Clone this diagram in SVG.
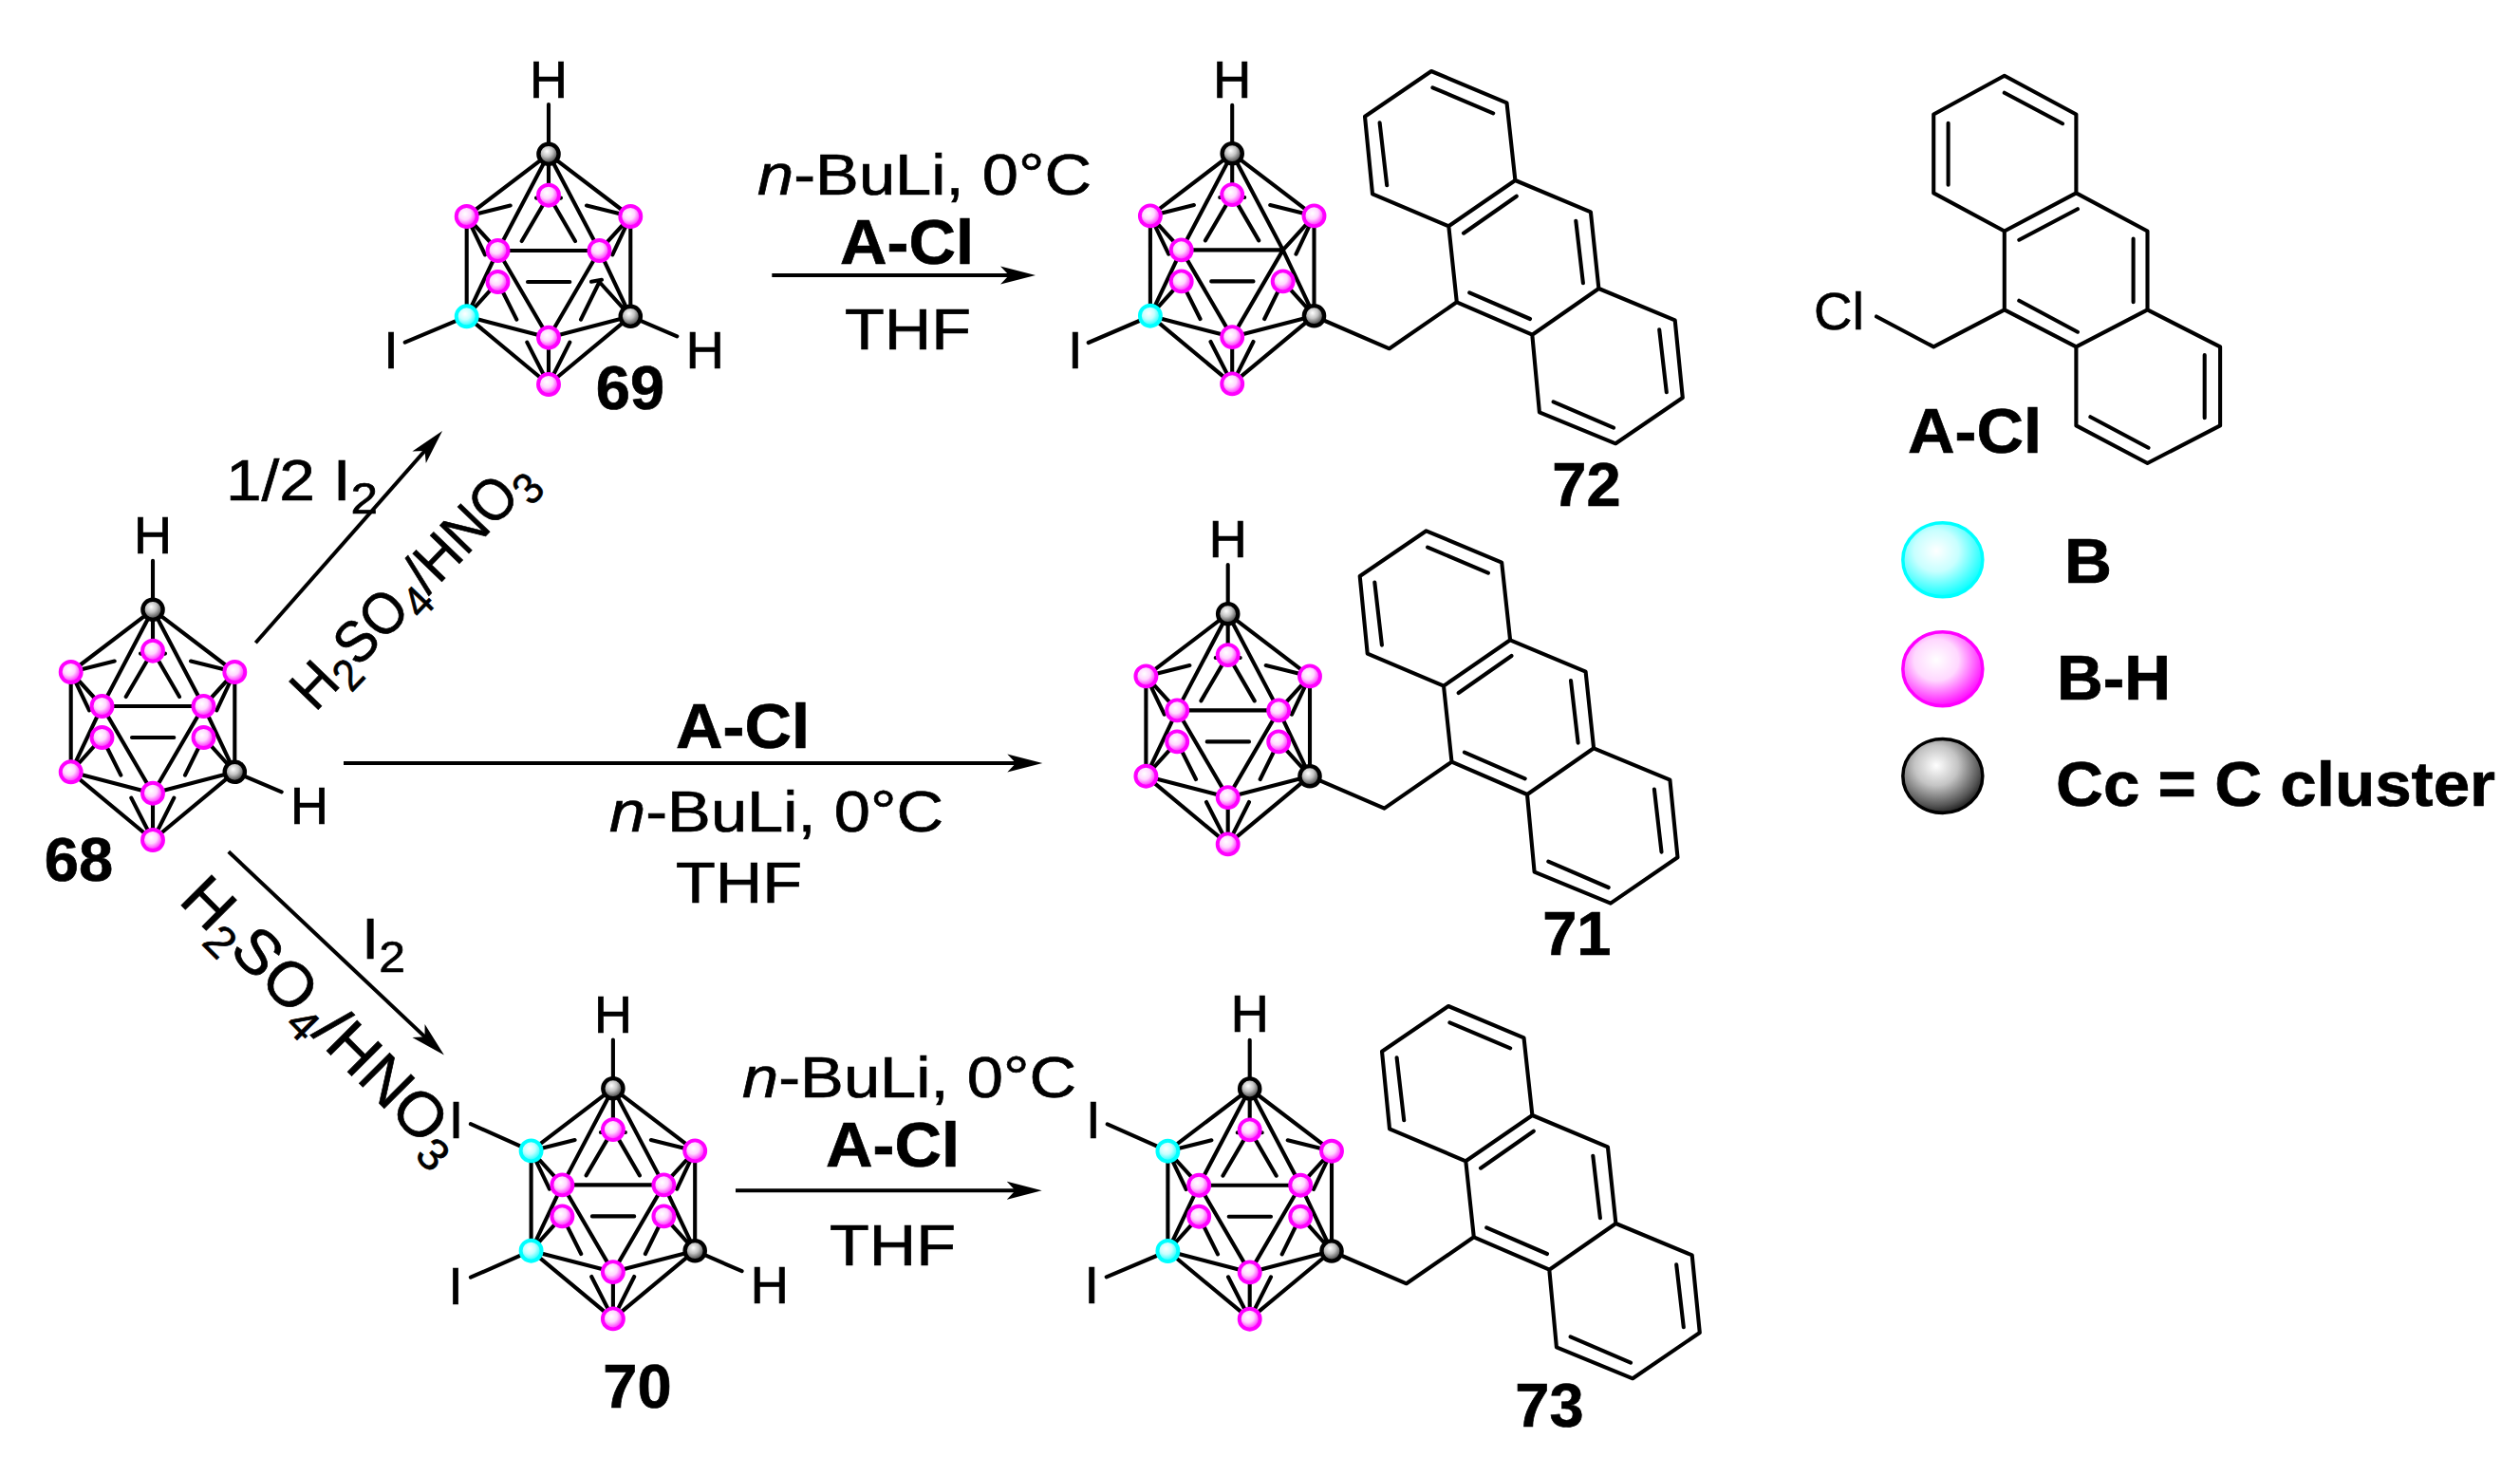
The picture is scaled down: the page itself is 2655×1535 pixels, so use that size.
<svg xmlns="http://www.w3.org/2000/svg" width="2655" height="1535" viewBox="0 0 2655 1535">
<style>
.b{stroke:#000;stroke-width:4.1;fill:none;stroke-linecap:round;stroke-linejoin:round}
.a{stroke:#000;stroke-width:4;fill:none;marker-end:url(#head)}
text{font-family:"Liberation Sans",Arial,sans-serif;fill:#000;stroke:#000;stroke-width:.7}
.h{font-size:56px;text-anchor:middle}
.r{font-size:62px}
.o{font-size:66px;font-weight:bold}
.l{font-size:65px;font-weight:bold;text-anchor:middle}
.s{font-size:47px}
</style>
<defs>
<radialGradient id="gp" cx=".42" cy=".38" r=".62"><stop offset="0" stop-color="#fff"/><stop offset=".45" stop-color="#ffd8ff"/><stop offset="1" stop-color="#ff10ff"/></radialGradient>
<radialGradient id="gc" cx=".42" cy=".38" r=".62"><stop offset="0" stop-color="#fff"/><stop offset=".45" stop-color="#c8ffff"/><stop offset="1" stop-color="#10ffff"/></radialGradient>
<radialGradient id="gk" cx=".42" cy=".36" r=".68"><stop offset="0" stop-color="#fff"/><stop offset=".4" stop-color="#c4c4c4"/><stop offset=".8" stop-color="#555"/><stop offset="1" stop-color="#111"/></radialGradient>
<marker id="head" markerUnits="userSpaceOnUse" markerWidth="40" markerHeight="22" viewBox="0 -11 40 22" refX="15" refY="0" orient="auto"><path d="M37 0L0 -9.6L9 0L0 9.6Z" fill="#000"/></marker>
<circle id="ap" r="11" fill="url(#gp)" stroke="#ff00ff" stroke-width="3.9"/>
<circle id="ac" r="11" fill="url(#gc)" stroke="#00ffff" stroke-width="3.9"/>
<circle id="ak" r="10.6" fill="url(#gk)" stroke="#000" stroke-width="4.4"/>
<path id="cage" class="b" d="M0 0L-86.3 65.7M0 0L86.3 65.7M0 0L0 43.4M0 0L-53.5 101.7M0 0L53.5 101.7M-86.3 65.7L-40.3 54.3M86.3 65.7L40 54.3M0 43.4L-28.3 91.7M0 43.4L28 91.7M-13 46.3L13 46.3M-86.3 65.7L-53.5 101.7M-86.3 65.7L-67 106M86.3 65.7L53.5 101.7M86.3 65.7L67.3 106M-53.5 101.7L53.5 101.7M-22 134.7L22.3 134.7M-86.3 65.7L-86.3 171M86.3 65.7L86.3 171M-86.3 171L-53.5 101.7M-86.3 171L-53.5 134.7M86.3 171L53.5 101.7M86.3 171L53.5 134.7M-53.5 101.7L0 193.4M53.5 101.7L0 193.4M-53.5 134.7L-33.7 174.3M53.5 134.7L34 174.3M-86.3 171L0 193.4M86.3 171L0 193.4M-86.3 171L0 242.7M86.3 171L0 242.7M0 193.4L0 242.7M-22.7 198.3L0 242.7M22.3 198.3L0 242.7"/>
<g id="atoms">
<use href="#ak" x="0" y="0"/><use href="#ap" x="0" y="43.4"/><use href="#ap" x="86.3" y="65.7"/><use href="#ap" x="-53.5" y="101.7"/><use href="#ap" x="-53.5" y="134.7"/><use href="#ap" x="0" y="193.4"/><use href="#ap" x="0" y="242.7"/><use href="#ak" x="86.3" y="171"/>
</g>
<path id="anth" class="b" d="M1384.3 333L1463.8 367.3L1534.8 318.3M1508 75L1587.5 108.3L1596.4 190L1526.3 238.3L1446 204.3L1438 122.7ZM1596.4 190L1675.9 223.3L1684.4 304L1614.3 352.7L1534.8 318.3L1526.3 238.3M1684.4 304L1764.7 337.3L1772.8 419L1702.2 467.3L1621.9 434.3L1614.3 352.7M1509.4 92.3L1573.2 119.3M1453.6 129.3L1461.2 195.3M1597.8 206.7L1542 245.7M1660.3 232.7L1667.9 298.3M1548.2 308.3L1612 336M1748.2 347.3L1755.8 413.3M1636.6 423.3L1700 450.7"/>
</defs>
<rect width="2655" height="1535" fill="#fff"/>

<g id="connectors">
<path class="a" d="M269.3 677.3L451.5 470.5"/>
<path class="a" d="M240.8 897.2L451.9 1096.4"/>
<path class="a" d="M362 804L1076.3 804"/>
<path class="a" d="M813.3 290L1069 290"/>
<path class="a" d="M775 1254.3L1075.7 1254.3"/>
</g>

<g id="conditions">
<text class="r" x="238" y="527.3" textLength="160" lengthAdjust="spacingAndGlyphs">1/2 I<tspan class="s" dy="14">2</tspan></text>
<text class="r" transform="translate(332 751) rotate(-46)" textLength="338" lengthAdjust="spacingAndGlyphs">H<tspan class="s" dy="13">2</tspan><tspan dy="-13">SO</tspan><tspan class="s" dy="13">4</tspan><tspan dy="-13">/HNO</tspan><tspan class="s" dy="13">3</tspan></text>
<text class="r" x="381" y="1010" textLength="46" lengthAdjust="spacingAndGlyphs">I<tspan class="s" dy="14">2</tspan></text>
<text style="font-size:66px" transform="translate(187 950) rotate(45)" textLength="392" lengthAdjust="spacingAndGlyphs">H<tspan class="s" dy="14">2</tspan><tspan dy="-14">SO</tspan><tspan class="s" dy="14">4</tspan><tspan dy="-14">/HNO</tspan><tspan class="s" dy="14">3</tspan></text>
<text class="r" x="798" y="205" textLength="352" lengthAdjust="spacingAndGlyphs"><tspan font-style="italic">n</tspan>-BuLi, 0°C</text>
<text class="o" x="885" y="277.7" textLength="141" lengthAdjust="spacingAndGlyphs">A-Cl</text>
<text class="r" x="890" y="368.3" textLength="133" lengthAdjust="spacingAndGlyphs">THF</text>
<text class="o" x="712" y="787.7" textLength="141" lengthAdjust="spacingAndGlyphs">A-Cl</text>
<text class="r" x="642" y="875.7" textLength="352" lengthAdjust="spacingAndGlyphs"><tspan font-style="italic">n</tspan>-BuLi, 0°C</text>
<text class="r" x="712" y="950.7" textLength="133" lengthAdjust="spacingAndGlyphs">THF</text>
<text class="r" x="782" y="1155.7" textLength="352" lengthAdjust="spacingAndGlyphs"><tspan font-style="italic">n</tspan>-BuLi, 0°C</text>
<text class="o" x="870" y="1229.3" textLength="141" lengthAdjust="spacingAndGlyphs">A-Cl</text>
<text class="r" x="874" y="1333.3" textLength="133" lengthAdjust="spacingAndGlyphs">THF</text>
</g>

<g id="n68">
<path class="b" d="M161 590.7L161 642.3M247.3 813.3L296.7 834.3"/>
<g transform="translate(161 642.3)"><use href="#cage"/><use href="#atoms"/><use href="#ap" x="-86.3" y="65.7"/><use href="#ap" x="-86.3" y="171"/><use href="#ap" x="53.5" y="101.7"/><use href="#ap" x="53.5" y="134.7"/></g>
<text class="h" x="161" y="582.7">H</text><text class="h" x="326" y="868.3">H</text>
<text class="l" x="83" y="928">68</text>
</g>

<g id="n69">
<path class="b" d="M578 110L578 162.3M664.3 333.3L713.3 354.3M491.7 333.3L426.7 360.7"/>
<g transform="translate(578 162.3)"><use href="#cage"/><use href="#atoms"/><use href="#ap" x="-86.3" y="65.7"/><use href="#ac" x="-86.3" y="171"/><use href="#ap" x="53.5" y="101.7"/><path class="b" d="M45 134.5L56 132.5"/></g>
<text class="h" x="578" y="102.7">H</text><text class="h" x="742.7" y="388.3">H</text><text class="h" x="412" y="388.3">I</text>
<text class="l" x="664" y="431">69</text>
</g>

<g id="n72">
<use href="#anth"/>
<path class="b" d="M1298.2 110.7L1298.2 161.7M1212 333L1146.7 361"/>
<g transform="translate(1298.2 161.7)"><use href="#cage"/><use href="#atoms"/><use href="#ap" x="-86.3" y="65.7"/><use href="#ac" x="-86.3" y="171"/><use href="#ap" x="53.5" y="134.7"/></g>
<text class="h" x="1298.2" y="102.7">H</text><text class="h" x="1132.7" y="388.3">I</text>
<text class="l" x="1671.4" y="532.7">72</text>
</g>

<g id="n71">
<use href="#anth" transform="translate(-5.3 484.3)"/>
<path class="b" d="M1293.7 595L1293.7 646.7"/>
<g transform="translate(1293.7 646.7)"><use href="#cage"/><use href="#atoms"/><use href="#ap" x="-86.3" y="65.7"/><use href="#ap" x="-86.3" y="171"/><use href="#ap" x="53.5" y="101.7"/><use href="#ap" x="53.5" y="134.7"/></g>
<text class="h" x="1293.7" y="586.7">H</text>
<text class="l" x="1661.3" y="1006.4">71</text>
</g>

<g id="n70">
<path class="b" d="M645.9 1095.5L645.9 1146.7M559.7 1212.6L495.9 1184.2M559.7 1317.7L495.9 1345.7M732.2 1317.7L781.6 1339.2"/>
<g transform="translate(645.9 1146.7)"><use href="#cage"/><use href="#atoms"/><use href="#ac" x="-86.3" y="65.7"/><use href="#ac" x="-86.3" y="171"/><use href="#ap" x="53.5" y="101.7"/><use href="#ap" x="53.5" y="134.7"/></g>
<text class="h" x="645.9" y="1087.8">H</text><text class="h" x="480.6" y="1198.8">I</text><text class="h" x="480" y="1373.7">I</text><text class="h" x="810.7" y="1373">H</text>
<text class="l" x="671.4" y="1483">70</text>
</g>

<g id="n73">
<use href="#anth" transform="translate(18 985)"/>
<path class="b" d="M1316.7 1095.7L1316.7 1147M1230.4 1212.7L1166.7 1184.3M1230.4 1318L1165.7 1345.3"/>
<g transform="translate(1316.7 1147)"><use href="#cage"/><use href="#atoms"/><use href="#ac" x="-86.3" y="65.7"/><use href="#ac" x="-86.3" y="171"/><use href="#ap" x="53.5" y="101.7"/><use href="#ap" x="53.5" y="134.7"/></g>
<text class="h" x="1316.7" y="1087.3">H</text><text class="h" x="1151.7" y="1199.3">I</text><text class="h" x="1150.3" y="1373.3">I</text>
<text class="l" x="1632.5" y="1502.8">73</text>
</g>

<g id="a-cl">
<path class="b" d="M2111.8 79.8L2187.4 120.5L2187.4 203.4L2111.8 243.5L2037.2 203.4L2037.2 120.5ZM2187.4 203.4L2262.5 243.5L2262.5 326.4L2187.4 365.4L2111.8 326.4L2111.8 243.5M2262.5 326.4L2339.1 365.4L2339.1 448.4L2262.5 488L2187.4 448.4L2187.4 365.4M2111.8 326.4L2037.2 365.4L1977 333.5M2111.8 97.7L2173 130.2M2052.6 129.7L2052.6 194.7M2188.9 220.2L2127.3 252.7M2247.6 251.6L2247.6 318.3M2127.3 316.7L2188.9 349.7M2322.7 374.1L2322.7 440.2M2202.4 439.2L2263.5 471.7"/>
<text style="font-size:56px" x="1911" y="346.5">Cl</text>
<text class="o" x="2010" y="477" textLength="141" lengthAdjust="spacingAndGlyphs">A-Cl</text>
</g>

<g id="legend-b">
<ellipse cx="2046.8" cy="589.8" rx="42" ry="39" fill="url(#gc)" stroke="#00ffff" stroke-width="3.5"/>
<text class="o" x="2175" y="614" textLength="50" lengthAdjust="spacingAndGlyphs">B</text>
</g>
<g id="legend-bh">
<ellipse cx="2046.8" cy="704.7" rx="42" ry="39" fill="url(#gp)" stroke="#ff00ff" stroke-width="3.5"/>
<text class="o" x="2167" y="737" textLength="120" lengthAdjust="spacingAndGlyphs">B-H</text>
</g>
<g id="legend-c">
<ellipse cx="2046.8" cy="817.5" rx="42" ry="39" fill="url(#gk)" stroke="#000" stroke-width="3.5"/>
<text class="o" x="2166" y="849" textLength="463" lengthAdjust="spacingAndGlyphs">Cc = C cluster</text>
</g>
</svg>
